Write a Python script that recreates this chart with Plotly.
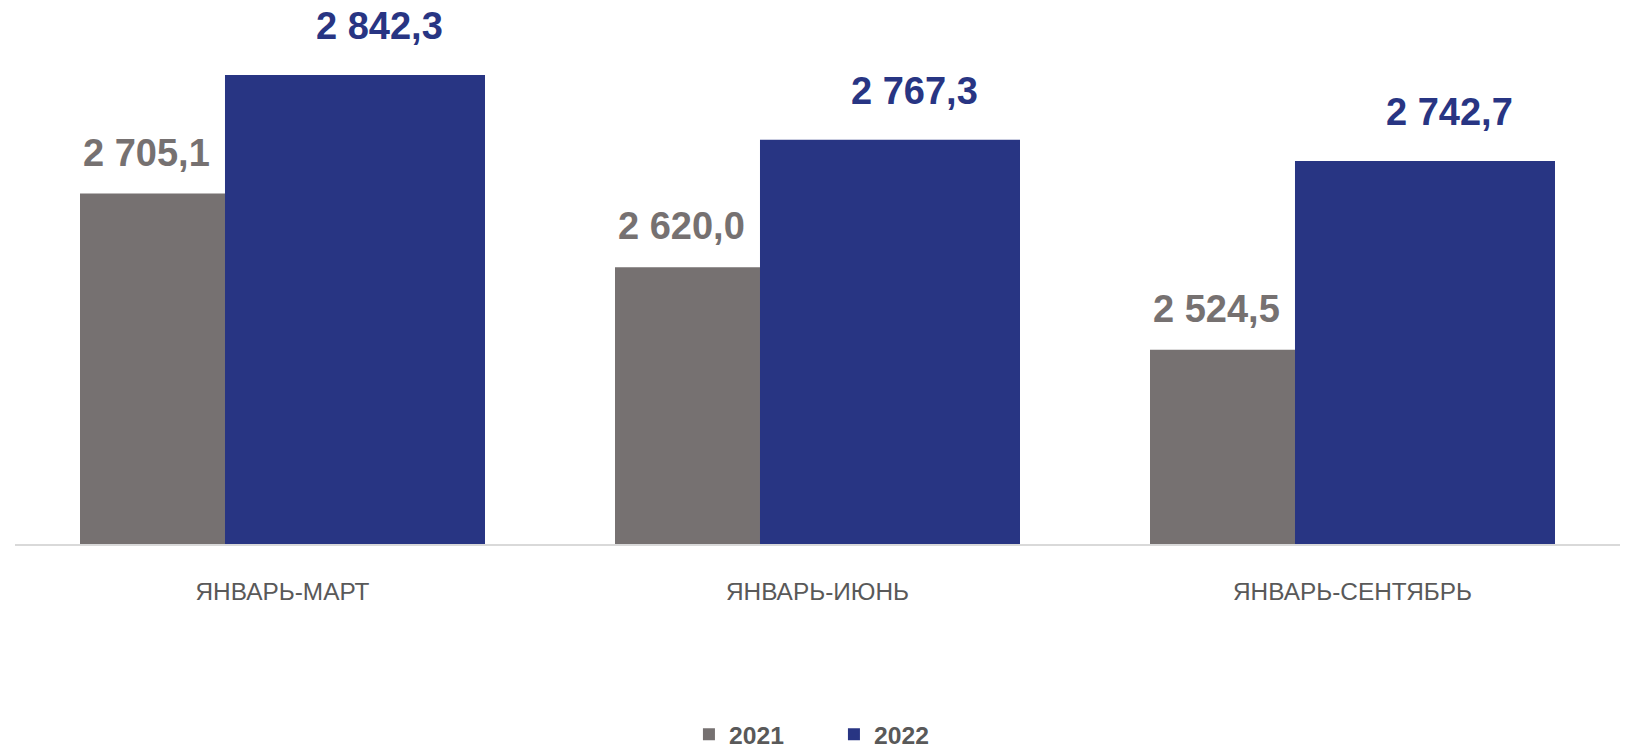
import plotly.graph_objects as go

categories = ["ЯНВАРЬ-МАРТ", "ЯНВАРЬ-ИЮНЬ", "ЯНВАРЬ-СЕНТЯБРЬ"]
series_names = ["2021", "2022"]
values_2021 = [2705.1, 2620.0, 2524.5]
values_2022 = [2842.3, 2767.3, 2742.7]
labels_2021 = ["2 705,1", "2 620,0", "2 524,5"]
labels_2022 = ["2 842,3", "2 767,3", "2 742,7"]

GRAY = "#767171"
BLUE = "#283583"
TEXT = "#595959"
FONT = "Liberation Sans, Arial, sans-serif"

# layout constants (category units)
W1, OFF1 = 0.271, -0.3785
W2, OFF2 = 0.486, -0.1075

fig = go.Figure()
fig.add_trace(go.Bar(
    x=categories, y=values_2021, name=series_names[0],
    marker=dict(color=GRAY, line=dict(width=0)),
    width=W1, offset=OFF1, hoverinfo="skip",
))
fig.add_trace(go.Bar(
    x=categories, y=values_2022, name=series_names[1],
    marker=dict(color=BLUE, line=dict(width=0)),
    width=W2, offset=OFF2, hoverinfo="skip",
))

annotations = []
for i, (v, t) in enumerate(zip(values_2021, labels_2021)):
    annotations.append(dict(
        x=i + OFF1 + W1 / 2, y=v, xref="x", yref="y", text=t, showarrow=False,
        yanchor="middle", xanchor="center", yshift=41, xshift=-6,
        font=dict(family=FONT, size=38, color=GRAY, weight="bold"),
    ))
for i, (v, t) in enumerate(zip(values_2022, labels_2022)):
    annotations.append(dict(
        x=i + OFF2 + W2 / 2, y=v, xref="x", yref="y", text=t, showarrow=False,
        yanchor="middle", xanchor="center", yshift=49, xshift=25,
        font=dict(family=FONT, size=38, color=BLUE, weight="bold"),
    ))

fig.update_layout(
    width=1627, height=765,
    margin=dict(l=15, r=7, t=10, b=209),
    paper_bgcolor="white", plot_bgcolor="white",
    barmode="overlay",
    showlegend=True,
    legend=dict(
        orientation="h", x=0.4199, xanchor="left",
        y=-0.357, yanchor="middle",
        font=dict(family=FONT, size=24.7, color=TEXT, weight="bold"),
        entrywidth=100, itemwidth=30,
    ),
    annotations=annotations,
    xaxis=dict(
        type="category", range=[-0.5, 2.5],
        showline=True, linecolor="#d9d9d9", linewidth=2,
        showgrid=False, zeroline=False, ticks="",
        tickfont=dict(family=FONT, size=24.4, color=TEXT),
        ticklabelstandoff=25,
    ),
    yaxis=dict(
        range=[2300, 2300 + 534 / 0.865],
        visible=False, showgrid=False, zeroline=False,
    ),
)

post = (
    "document.documentElement.style.margin='0';"
    "document.documentElement.style.overflow='hidden';"
    "document.body.style.margin='0';"
    "document.body.style.overflow='hidden';"
    "var gd=document.getElementById('{plot_id}');"
    "gd.style.position='fixed';gd.style.top='0';gd.style.left='0';"
)

fig.write_html("out.html", post_script=post, config={"displayModeBar": False})
